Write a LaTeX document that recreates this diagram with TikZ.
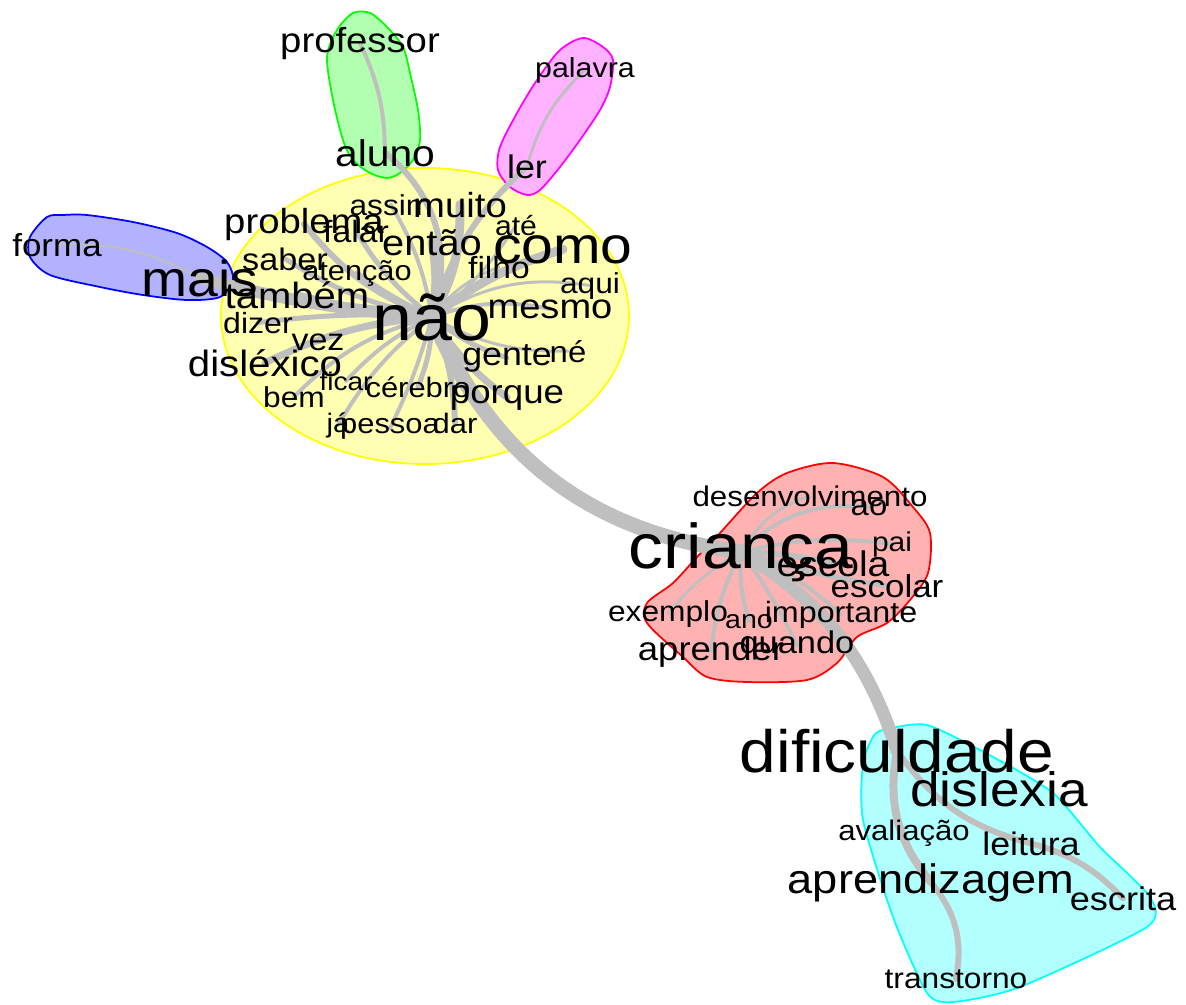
\documentclass[tikz,border=0pt]{standalone}
\usepackage{fontspec}
\setmainfont{Liberation Sans}[FakeStretch=1.1]
\definecolor{gyel}{RGB}{255,255,0}
\definecolor{ggrn}{RGB}{0,255,0}
\definecolor{gmag}{RGB}{255,0,255}
\definecolor{gblu}{RGB}{0,0,255}
\definecolor{gred}{RGB}{255,0,0}
\definecolor{gcyn}{RGB}{0,255,255}
\pgfdeclarelayer{hull}
\pgfdeclarelayer{edges}
\pgfsetlayers{hull,edges,main}
\tikzset{lbl/.style={inner sep=0pt, anchor=base, text=black, font=\fontsize{#1}{#1}\selectfont}}
\tikzset{edg/.style={draw=black!25, line width=#1*0.5669pt, line cap=round}}
\tikzset{grp/.style={draw=#1, fill=#1!30, line width=1pt}}

\begin{document}
\begin{tikzpicture}[x=0.02cm, y=-0.02cm]
\useasboundingbox (0,0) rectangle (1186,1004);

\begin{pgfonlayer}{hull}
\draw[grp=gyel] (425,316) ellipse [x radius=204, y radius=148];
\draw[grp=ggrn] plot[smooth cycle, tension=0.5] coordinates {(353,13) (370,13) (387,27) (403,47) (410,73) (418,110) (420,140) (413,160) (400,173) (387,178) (370,173) (353,160) (343,140) (333,100) (327,57) (337,30)};
\draw[grp=gmag] plot[smooth cycle, tension=0.5] coordinates {(583,38) (603,47) (613,60) (610,87) (600,110) (580,140) (560,167) (540,190) (527,195) (510,187) (498,170) (500,147) (517,113) (537,80) (560,50)};
\draw[grp=gblu] plot[smooth cycle, tension=0.5] coordinates {(47,217) (63,215) (87,215) (133,222) (177,233) (207,247) (227,262) (233,280) (220,297) (187,300) (143,295) (100,287) (50,275) (30,257) (30,237)};
\draw[grp=gred] plot[smooth cycle, tension=0.5] coordinates {(720,533) (757,493) (787,473) (833,463) (883,477) (913,507) (930,533) (928,573) (910,600) (887,623) (857,637) (837,663) (807,680) (747,682) (707,677) (683,657) (647,623) (647,603) (673,583) (697,557)};
\draw[grp=gcyn] plot[smooth cycle, tension=0.4] coordinates {(883,730) (927,725) (993,757) (1053,793) (1100,847) (1150,897) (1147,927) (1020,987) (953,1002) (927,993) (893,917) (863,820) (863,763) (873,737)};
\end{pgfonlayer}

\node[lbl=37.1] (nao) at (432,340) {não};
\node[lbl=29.5] (como) at (563,263) {como};
\node[lbl=19.8] (muito) at (460,217) {muito};
\node[lbl=16.4] (assim) at (391,215) {assim};
\node[lbl=19.8] (problema) at (304,233) {problema};
\node[lbl=17.5] (falar) at (356,242) {falar};
\node[lbl=20.6] (entao) at (432,255) {então};
\node[lbl=15.6] (ate) at (516,235) {até};
\node[lbl=17.7] (saber) at (285,270) {saber};
\node[lbl=15.9] (atencao) at (357,280) {atenção};
\node[lbl=20.7] (tambem) at (297,308) {também};
\node[lbl=16.6] (dizer) at (258,333) {dizer};
\node[lbl=17.6] (vez) at (318,350) {vez};
\node[lbl=20.8] (dislexico) at (265,376) {disléxico};
\node[lbl=14.5] (ficar) at (346,390) {ficar};
\node[lbl=16] (cerebro) at (418,397) {cérebro};
\node[lbl=16.4] (bem) at (294,407) {bem};
\node[lbl=15.2] (ja) at (338,432) {já};
\node[lbl=16] (pessoa) at (390,433) {pessoa};
\node[lbl=16] (dar) at (455,433) {dar};
\node[lbl=19] (porque) at (507,403) {porque};
\node[lbl=18.5] (gente) at (507,365) {gente};
\node[lbl=17] (ne) at (568,362) {né};
\node[lbl=19.7] (mesmo) at (550,318) {mesmo};
\node[lbl=16.4] (aqui) at (590,293) {aqui};
\node[lbl=17.4] (filho) at (499,278) {filho};
\node[lbl=28.6] (mais) at (200,296) {mais};
\node[lbl=18.1] (forma) at (57,256) {forma};
\node[lbl=19.8] (professor) at (360,52) {professor};
\node[lbl=15.7] (palavra) at (585,77) {palavra};
\node[lbl=21.1] (aluno) at (385,166) {aluno};
\node[lbl=18.6] (ler) at (527,178) {ler};

\node[lbl=16.2] (desenvolvimento) at (810,506) {desenvolvimento};
\node[lbl=17] (ao) at (869,515) {ao};
\node[lbl=36] (crianca) at (741,568) {criança};
\node[lbl=15.5] (pai) at (892,551) {pai};
\node[lbl=20.2] (escola) at (833,576) {escola};
\node[lbl=18.1] (escolar) at (887,597) {escolar};
\node[lbl=16.4] (exemplo) at (668,621) {exemplo};
\node[lbl=14.8] (ano) at (749,628) {ano};
\node[lbl=16.7] (importante) at (841,622) {importante};
\node[lbl=18.9] (aprender) at (711,660) {aprender};
\node[lbl=17.8] (quando) at (797,653) {quando};

\node[lbl=34] (dificuldade) at (897,772) {dificuldade};
\node[lbl=27.5] (dislexia) at (999,806) {dislexia};
\node[lbl=16.1] (avaliacao) at (904,840) {avaliação};
\node[lbl=18.5] (leitura) at (1031,855) {leitura};
\node[lbl=23.4] (aprendizagem) at (931,893) {aprendizagem};
\node[lbl=18.7] (escrita) at (1123,910) {escrita};
\node[lbl=16.4] (transtorno) at (956,988) {transtorno};

\begin{pgfonlayer}{edges}
\draw[edg=15] (nao.center) to[bend right=30] (crianca.center);
\draw[edg=13] (crianca.center) to[bend left=20] (dificuldade.center);
\draw[edg=9] (nao.center) to[bend left=10] (como.center);
\draw[edg=9] (nao.center) to[bend right=10] (entao.center);
\draw[edg=9] (nao.center) to[bend right=15] (muito.center);
\draw[edg=6] (nao.center) to[bend right=35] (aluno.center);
\draw[edg=6] (nao.center) to[bend left=15] (ler.center);
\draw[edg=12] (nao.center) to[bend left=5] (mais.center);
\draw[edg=6] (nao.center) to[bend left=15] (problema.center);
\draw[edg=5] (nao.center) to[bend left=10] (falar.center);
\draw[edg=4] (nao.center) to[bend right=10] (assim.center);
\draw[edg=5] (nao.center) to[bend left=10] (saber.center);
\draw[edg=5] (nao.center) to[bend left=5] (atencao.center);
\draw[edg=7] (nao.center) to[bend left=5] (tambem.center);
\draw[edg=5] (nao.center) to[bend right=5] (dizer.center);
\draw[edg=5] (nao.center) to[bend right=10] (vez.center);
\draw[edg=7] (nao.center) to[bend right=10] (dislexico.center);
\draw[edg=4] (nao.center) to[bend right=10] (ficar.center);
\draw[edg=5] (nao.center) to[bend left=10] (cerebro.center);
\draw[edg=4] (nao.center) to[bend right=15] (bem.center);
\draw[edg=4] (nao.center) to[bend right=10] (ja.center);
\draw[edg=4] (nao.center) to[bend left=5] (pessoa.center);
\draw[edg=6] (nao.center) to[bend left=10] (dar.center);
\draw[edg=7] (nao.center) to[bend right=10] (porque.center);
\draw[edg=5] (nao.center) to[bend right=10] (gente.center);
\draw[edg=3] (nao.center) to[bend right=15] (ne.center);
\draw[edg=4] (nao.center) to[bend left=15] (mesmo.center);
\draw[edg=3] (nao.center) to[bend left=20] (aqui.center);
\draw[edg=3] (nao.center) to[bend left=15] (filho.center);
\draw[edg=3] (nao.center) to[bend right=10] (ate.center);
\draw[edg=2] (forma.center) to[bend left=15] (mais.center);
\draw[edg=4] (professor.center) to[bend left=12] (aluno.center);
\draw[edg=3] (palavra.center) to[bend right=15] (ler.center);

\draw[edg=3] (crianca.center) to[bend left=20] (desenvolvimento.center);
\draw[edg=4] (crianca.center) to[bend left=25] (ao.center);
\draw[edg=4] (crianca.center) to[bend left=10] (pai.center);
\draw[edg=6] (crianca.center) to[bend left=5] (escola.center);
\draw[edg=5] (crianca.center) to[bend right=5] (escolar.center);
\draw[edg=3] (crianca.center) to[bend right=10] (exemplo.center);
\draw[edg=4] (crianca.center) to[bend right=10] (ano.center);
\draw[edg=4] (crianca.center) to[bend left=10] (importante.center);
\draw[edg=4] (crianca.center) to[bend right=10] (aprender.center);
\draw[edg=4] (crianca.center) to[bend left=5] (quando.center);

\draw[edg=8] (dificuldade.center) to[bend right=25] (aprendizagem.center);
\draw[edg=6] (aprendizagem.center) to[bend left=25] (transtorno.center);
\draw[edg=6] (dificuldade.center) to[bend right=20] (leitura.center);
\draw[edg=6] (leitura.center) to[bend left=15] (escrita.center);
\end{pgfonlayer}
\end{tikzpicture}
\end{document}
